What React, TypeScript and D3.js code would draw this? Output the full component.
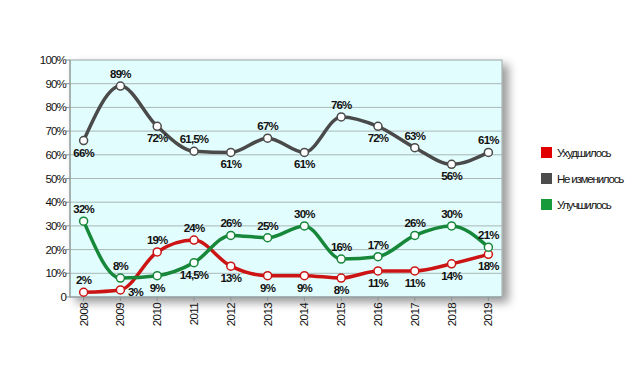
import { useEffect, useRef } from "react";
import * as d3 from "d3";

const years = ["2008", "2009", "2010", "2011", "2012", "2013", "2014", "2015", "2016", "2017", "2018", "2019"];
const worse = [2, 3, 19, 24, 13, 9, 9, 8, 11, 11, 14, 18];
const same = [66, 89, 72, 61.5, 61, 67, 61, 76, 72, 63, 56, 61];
const better = [32, 8, 9, 14.5, 26, 25, 30, 16, 17, 26, 30, 21];
const yTicks = [0, 10, 20, 30, 40, 50, 60, 70, 80, 90, 100];
const seriesNames = ["Ухудшилось", "Не изменилось", "Улучшилось"];

// label placement per point: a = above, b = below, r = right
const worsePos = ["a", "r", "a", "a", "b", "b", "b", "b", "b", "b", "b", "b"];
const samePos = ["b", "a", "b", "a", "b", "a", "b", "a", "b", "a", "b", "a"];
const betterPos = ["a", "a", "b", "b", "a", "a", "a", "a", "a", "a", "a", "a"];

const W = 637;
const H = 375;
const plot = { left: 70, right: 502, top: 60, bottom: 297 };
const font = "'Liberation Sans', Arial, sans-serif";

export default function App() {
  const ref = useRef<SVGSVGElement>(null);

  useEffect(() => {
    const svg = d3.select(ref.current);
    svg.selectAll("*").remove();

    const defs = svg.append("defs");
    const f = defs.append("filter").attr("id", "sh").attr("x", "-10%").attr("y", "-10%").attr("width", "130%").attr("height", "130%");
    f.append("feDropShadow").attr("dx", 6).attr("dy", 5).attr("stdDeviation", 5).attr("flood-color", "#000").attr("flood-opacity", 0.4);

    const x = d3.scalePoint<string>().domain(years).range([plot.left, plot.right]).padding(0.37);
    const y = d3.scaleLinear().domain([0, 100]).range([plot.bottom, plot.top]);

    svg.append("rect").attr("width", W).attr("height", H).attr("fill", "#fff");

    svg.append("rect")
      .attr("x", plot.left).attr("y", plot.top)
      .attr("width", plot.right - plot.left).attr("height", plot.bottom - plot.top)
      .attr("fill", "#e2fdfd").attr("stroke", "#9aa6a6").attr("stroke-width", 1)
      .attr("filter", "url(#sh)");

    // gridlines
    svg.append("g").selectAll("line").data(yTicks.slice(1, -1)).join("line")
      .attr("x1", plot.left).attr("x2", plot.right)
      .attr("y1", (d) => y(d)).attr("y2", (d) => y(d))
      .attr("stroke", "#a9b7b7").attr("stroke-width", 1);

    // y axis
    const yAxis = svg.append("g");
    yAxis.append("line").attr("x1", plot.left).attr("x2", plot.left).attr("y1", plot.top).attr("y2", plot.bottom).attr("stroke", "#8a9494");
    yAxis.selectAll("line.t").data(yTicks).join("line").attr("class", "t")
      .attr("x1", plot.left - 4).attr("x2", plot.left)
      .attr("y1", (d) => y(d)).attr("y2", (d) => y(d)).attr("stroke", "#8a9494");
    yAxis.selectAll("text").data(yTicks).join("text")
      .attr("x", plot.left - 4).attr("y", (d) => y(d) + 4)
      .attr("text-anchor", "end").attr("font-family", font).attr("font-size", 11.5)
      .attr("letter-spacing", -0.8).attr("fill", "#111")
      .text((d) => (d === 0 ? "0" : d + "%"));

    // x axis
    const xAxis = svg.append("g");
    xAxis.append("line").attr("x1", plot.left).attr("x2", plot.right).attr("y1", plot.bottom).attr("y2", plot.bottom).attr("stroke", "#8a9494");
    xAxis.selectAll("line.t").data(years).join("line").attr("class", "t")
      .attr("x1", (d) => x(d)!).attr("x2", (d) => x(d)!)
      .attr("y1", plot.bottom).attr("y2", plot.bottom + 4).attr("stroke", "#8a9494");
    xAxis.selectAll("text").data(years).join("text")
      .attr("transform", (d) => `translate(${x(d)! + 4},${plot.bottom + 6}) rotate(-90)`)
      .attr("text-anchor", "end").attr("font-family", font).attr("font-size", 11.5)
      .attr("letter-spacing", -0.6).attr("fill", "#111")
      .text((d) => d);

    const series = [
      { values: worse, pos: worsePos, color: "#cc1414" },
      { values: same, pos: samePos, color: "#4a4a4a" },
      { values: better, pos: betterPos, color: "#17873a" },
    ];

    const ln = d3.line<number>()
      .x((_, i) => x(years[i])!)
      .y((d) => y(d))
      .curve(d3.curveMonotoneX);

    series.forEach((s) => {
      svg.append("path").datum(s.values).attr("d", ln)
        .attr("fill", "none").attr("stroke", s.color).attr("stroke-width", 3.5)
        .attr("stroke-linejoin", "round");
    });
    series.forEach((s) => {
      svg.append("g").selectAll("circle").data(s.values).join("circle")
        .attr("cx", (_, i) => x(years[i])!).attr("cy", (d) => y(d))
        .attr("r", 4).attr("fill", "#fff").attr("stroke", s.color).attr("stroke-width", 1.5);
    });
    series.forEach((s) => {
      svg.append("g").selectAll("text").data(s.values).join("text")
        .attr("x", (_, i) => x(years[i])! + (s.pos[i] === "r" ? 15 : 0))
        .attr("y", (d, i) => y(d) + (s.pos[i] === "a" ? -8 : s.pos[i] === "b" ? 16 : 6))
        .attr("text-anchor", "middle").attr("font-family", font).attr("font-size", 11.5)
        .attr("font-weight", "bold").attr("letter-spacing", -0.8).attr("fill", "#111")
        .text((d) => String(d).replace(".", ",") + "%");
    });

    // legend
    const lg = svg.append("g");
    series.forEach((s, i) => {
      const ly = 147 + i * 26;
      lg.append("rect").attr("x", 541).attr("y", ly).attr("width", 11).attr("height", 11)
        .attr("fill", i === 0 ? "#e00000" : i === 1 ? "#4c4c4c" : "#179a3a");
      lg.append("text").attr("x", 557).attr("y", ly + 10)
        .attr("font-family", font).attr("font-size", 11.5).attr("letter-spacing", -1.2)
        .attr("fill", "#111").text(seriesNames[i]);
    });
  }, []);

  return <svg ref={ref} width={W} height={H} style={{ position: "absolute", left: 0, top: 0 }} />;
}
